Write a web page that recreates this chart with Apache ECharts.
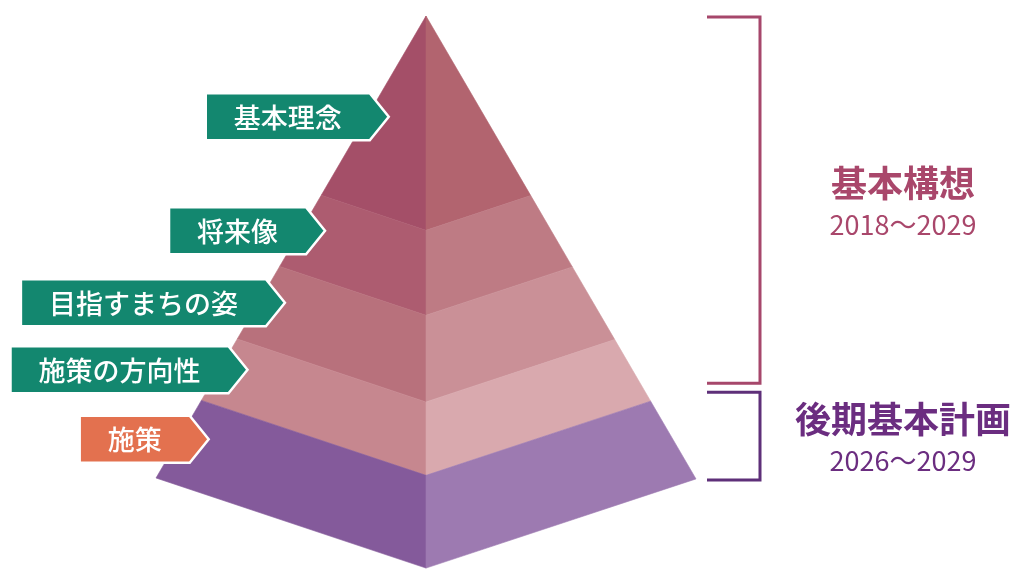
<!DOCTYPE html>
<html><head><meta charset="utf-8">
<script src="https://cdn.jsdelivr.net/npm/echarts@6/dist/echarts.min.js"></script>
<style>html,body{margin:0;padding:0;background:#fff}#c{width:1021px;height:572px}</style>
</head><body><div id="c"></div>
<script>
// ---- data ----
const layerNames = ['基本理念', '将来像', '目指すまちの姿', '施策の方向性', '施策'];
const layerCuts = [0, 0.388, 0.542, 0.699, 0.832, 1.0]; // depth fraction from apex
const planNames = ['基本構想', '後期基本計画'];
const planYears = ['2018〜2029', '2026〜2029'];
const planLayerFrom = [0, 4];
const planLayerTo = [3, 4];

// ---- styles ----
const leftColors = ['#a44f68', '#ad5c70', '#b8717c', '#c6878f', '#845a9b'];
const rightColors = ['#b2646f', '#be7b84', '#ca9097', '#d9a9ae', '#9d7ab1'];
const labelColors = ['#13876f', '#13876f', '#13876f', '#13876f', '#e3714f'];
const planColors = ['#a6476b', '#5e2f79'];
const planTextColors = ['#a9476b', '#6b2d80'];
// pyramid shape in axis units (apex at 0,0)
const L = [-1, 1], F = [0, 1.195], R = [1, 1.002];
const FONT = '"Noto Sans CJK JP", "Noto Sans", sans-serif';

const cv = document.createElement('canvas').getContext('2d');
function textW(t, size, weight) {
  cv.font = (weight || 'normal') + ' ' + size + 'px ' + FONT;
  return cv.measureText(t).width;
}

function renderLayer(params, api) {
  const i = api.value(0), t0 = api.value(1), t1 = api.value(2);
  const pt = (v, t) => api.coord([v[0] * t, v[1] * t]);
  const lf = [pt(L, t0), pt(F, t0), pt(F, t1), pt(L, t1)];
  const rf = [pt(F, t0), pt(R, t0), pt(R, t1), pt(F, t1)];
  return { type: 'group', children: [
    { type: 'polygon', shape: { points: lf }, style: { fill: leftColors[i], stroke: leftColors[i], lineWidth: 0.6 } },
    { type: 'polygon', shape: { points: rf }, style: { fill: rightColors[i], stroke: rightColors[i], lineWidth: 0.6 } }
  ] };
}

function renderLabel(params, api) {
  const i = api.value(0), t0 = api.value(1), t1 = api.value(2);
  const tm = Math.max((t0 + t1) / 2, t1 - 0.17);
  const edge = api.coord([L[0] * tm, L[1] * tm]);
  const name = layerNames[i];
  const fs = 27;
  const tipX = edge[0] + 19 + 12 * tm, y = edge[1];
  const tipD = 19, h = 47, pad = 28;
  const w = textW(name, fs, '500') + pad * 2;
  const rx = tipX - tipD, lx = rx - w;
  return { type: 'group', children: [
    { type: 'polygon', shape: { points: [[lx, y - h / 2], [rx, y - h / 2], [tipX, y], [rx, y + h / 2], [lx, y + h / 2]] },
      style: { fill: labelColors[i], stroke: '#fff', lineWidth: 2.5, lineJoin: 'miter' } },
    { type: 'text', style: { text: name, x: (lx + rx) / 2, y: y + 1, align: 'center', verticalAlign: 'middle',
      fill: '#fff', fontSize: fs, fontFamily: FONT, fontWeight: 500 } }
  ] };
}

function renderPlan(params, api) {
  const p = api.value(0);
  const t0 = layerCuts[planLayerFrom[p]], t1 = layerCuts[planLayerTo[p] + 1];
  const a = api.coord([R[0] * t0, R[1] * t0]);
  const b = api.coord([R[0] * t1, R[1] * t1]);
  const corner = api.coord(R);
  let yTop = a[1] + (p > 0 ? -9 : 1);
  let yBot = b[1] + (p < planNames.length - 1 ? -18 : 1);
  const x0 = corner[0] + 11, x1 = corner[0] + 64;
  const mid = (yTop + yBot) / 2;
  const cx = x1 + 143;
  return { type: 'group', children: [
    { type: 'polyline', shape: { points: [[x0, yTop], [x1, yTop], [x1, yBot], [x0, yBot]] },
      style: { fill: null, stroke: planColors[p], lineWidth: 3 } },
    { type: 'text', style: { text: planNames[p], x: cx, y: mid - 17, align: 'center', verticalAlign: 'middle',
      fill: planTextColors[p], fontSize: 36, fontFamily: FONT, fontWeight: 'bold' } },
    { type: 'text', style: { text: planYears[p], x: cx, y: mid + 25, align: 'center', verticalAlign: 'middle',
      fill: planTextColors[p], fontSize: 27, fontFamily: FONT, fontWeight: 'normal' } }
  ] };
}

const chart = echarts.init(document.getElementById('c'), null, { renderer: 'canvas' });
chart.setOption({
  backgroundColor: '#fff',
  animation: false,
  grid: { left: 0, right: 0, top: 0, bottom: 0 },
  xAxis: { type: 'value', min: -426 / 270, max: (1021 - 426) / 270, show: false },
  yAxis: { type: 'value', inverse: true, min: -16 / 462, max: 556 / 462, show: false },
  series: [
    { type: 'custom', renderItem: renderLayer, z: 1,
      data: layerNames.map((n, i) => [i, layerCuts[i], layerCuts[i + 1]]) },
    { type: 'custom', renderItem: renderLabel, z: 3,
      data: layerNames.map((n, i) => [i, layerCuts[i], layerCuts[i + 1]]) },
    { type: 'custom', renderItem: renderPlan, z: 2,
      data: planNames.map((n, i) => [i, 0]) }
  ]
});
</script></body></html>
